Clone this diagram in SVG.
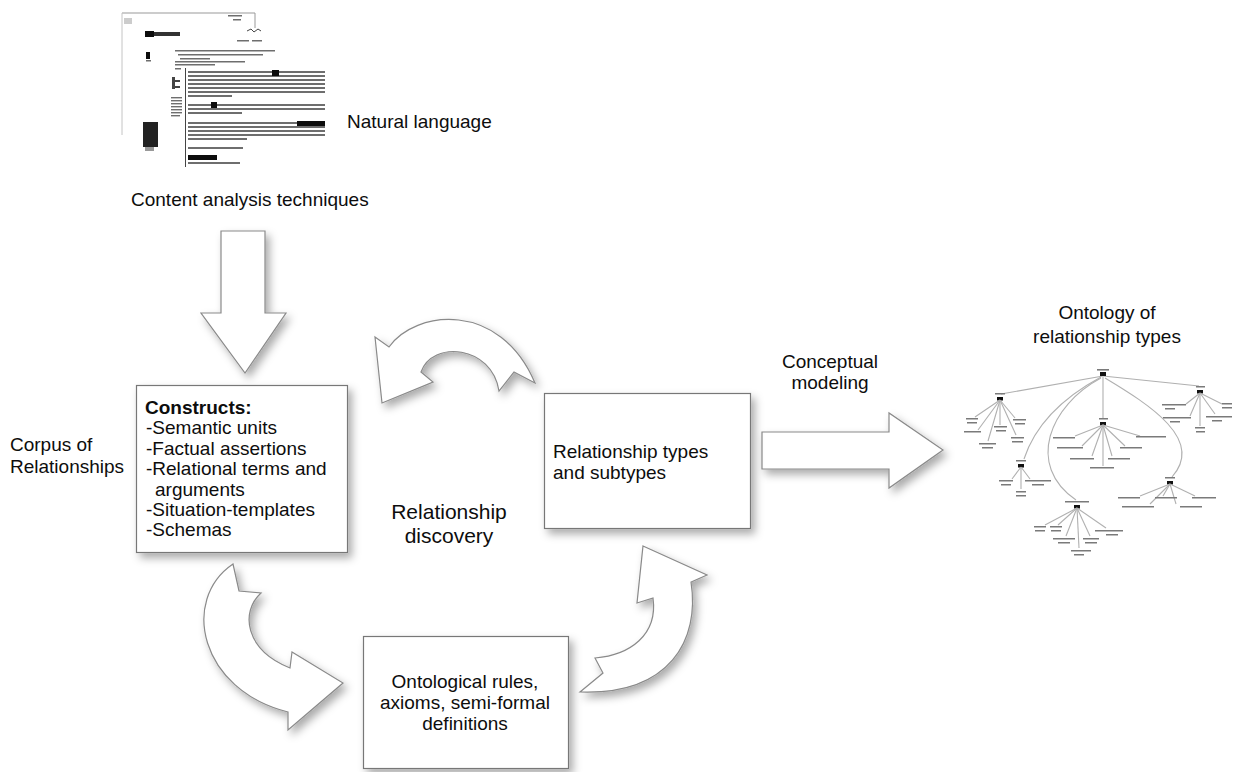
<svg xmlns="http://www.w3.org/2000/svg" width="1243" height="772" viewBox="0 0 1243 772">
<defs>
<style>
.t{font-family:"Liberation Sans",Arial,Helvetica,sans-serif;font-size:19px;fill:#0d0d0d}
.box{fill:#fff;stroke:#777;stroke-width:1.2;filter:url(#sh)}
.arr{fill:#fff;stroke:#8a8a8a;stroke-width:1.2;stroke-linejoin:miter;filter:url(#sh)}
.tl{stroke:#b0b0b0;stroke-width:1.1;fill:none}
.lb{fill:#7a7a7a}
.nd{fill:#111}
.dl{fill:#6e6e6e}
.blk{fill:#111}
</style>
<filter id="sh" x="-20%" y="-20%" width="150%" height="150%">
<feDropShadow dx="4" dy="5" stdDeviation="4.5" flood-color="#000" flood-opacity="0.33"/>
</filter>
<filter id="scan" x="-5%" y="-5%" width="110%" height="110%">
<feGaussianBlur stdDeviation="0.5"/>
</filter>
</defs>
<rect width="1243" height="772" fill="#fff"/>

<!-- scanned document -->
<g id="document" filter="url(#scan)">
<path d="M122,13 H255 V28" stroke="#999" stroke-width="1" fill="none"/>
<line x1="122" y1="13" x2="122" y2="135" stroke="#c4c4c4" stroke-width="1"/>
<rect x="228" y="15" width="14" height="1.5" class="dl"/>
<rect x="233" y="19" width="8" height="1.5" class="dl"/>
<rect x="124" y="18" width="8" height="6" fill="#ccc"/>
<rect x="145" y="31" width="9" height="6" class="blk"/>
<rect x="154" y="32" width="26" height="4" fill="#333"/>
<path d="M247,31 l4,-2 l3,3 l4,-3 l3,2" stroke="#444" fill="none" stroke-width="1"/>
<rect x="237" y="40" width="12" height="1.5" class="dl"/>
<rect x="252" y="40" width="10" height="1.5" class="dl"/>
<rect x="175" y="50" width="100" height="1.5" class="dl"/>
<rect x="178" y="54" width="85" height="1.5" class="dl"/>
<rect x="180" y="58" width="30" height="1.5" class="dl"/>
<rect x="175" y="61" width="70" height="1.5" class="dl"/>
<rect x="175" y="64" width="40" height="1.5" class="dl"/>
<rect x="175" y="68" width="6" height="1.5" class="dl"/>
<rect x="146" y="52" width="4" height="7" class="blk"/>
<rect x="146" y="60" width="5" height="1.5" class="dl"/>
<rect x="172" y="77" width="3" height="12" fill="#444"/>
<rect x="175" y="80" width="5" height="2" fill="#444"/>
<rect x="175" y="86" width="5" height="2" fill="#444"/>
<rect x="171" y="97" width="11" height="1.4" class="dl"/>
<rect x="171" y="100" width="11" height="1.4" class="dl"/>
<rect x="171" y="103" width="11" height="1.4" class="dl"/>
<rect x="171" y="106" width="11" height="1.4" class="dl"/>
<rect x="171" y="109" width="11" height="1.4" class="dl"/>
<rect x="171" y="112" width="11" height="1.4" class="dl"/>
<rect x="171" y="115" width="9" height="1.4" class="dl"/>
<rect x="143" y="122" width="15" height="25" fill="#222"/>
<rect x="145" y="147" width="9" height="4" fill="#999"/>
<line x1="185.5" y1="68" x2="185.5" y2="167" stroke="#444" stroke-width="1"/>
<rect x="188" y="71" width="137" height="2" class="dl"/>
<rect x="188" y="75" width="137" height="2" class="dl"/>
<rect x="188" y="79" width="137" height="2" class="dl"/>
<rect x="188" y="83" width="137" height="2" class="dl"/>
<rect x="188" y="87" width="137" height="2" class="dl"/>
<rect x="188" y="91" width="137" height="2" class="dl"/>
<rect x="188" y="95" width="44" height="2" class="dl"/>
<rect x="272" y="70" width="7" height="6" class="blk"/>
<rect x="188" y="104" width="137" height="2" class="dl"/>
<rect x="188" y="108" width="137" height="2" class="dl"/>
<rect x="188" y="112" width="54" height="2" class="dl"/>
<rect x="211" y="102" width="6" height="6" class="blk"/>
<rect x="188" y="122" width="137" height="2" class="dl"/>
<rect x="188" y="126" width="137" height="2" class="dl"/>
<rect x="188" y="130" width="137" height="2" class="dl"/>
<rect x="188" y="134" width="137" height="2" class="dl"/>
<rect x="188" y="138" width="59" height="2" class="dl"/>
<rect x="297" y="121" width="28" height="5" class="blk"/>
<rect x="188" y="147" width="55" height="2" class="dl"/>
<rect x="188" y="155" width="29" height="5" class="blk"/>
<rect x="188" y="162" width="52" height="2" class="dl"/>
</g>

<g id="label-natural">
<text class="t" x="347" y="128">Natural language</text>
</g>
<g id="label-content">
<text class="t" x="131" y="206">Content analysis techniques</text>
</g>
<g id="label-corpus">
<text class="t" x="10" y="451">Corpus of</text>
<text class="t" x="10" y="473">Relationships</text>
</g>
<g id="label-discovery">
<text class="t" x="449" y="519" text-anchor="middle" style="font-size:21px">Relationship</text>
<text class="t" x="449" y="543" text-anchor="middle" style="font-size:21px">discovery</text>
</g>
<g id="label-conceptual">
<text class="t" x="830" y="368" text-anchor="middle">Conceptual</text>
<text class="t" x="830" y="389" text-anchor="middle">modeling</text>
</g>
<g id="label-ontology">
<text class="t" x="1107" y="319" text-anchor="middle">Ontology of</text>
<text class="t" x="1107" y="343" text-anchor="middle">relationship types</text>
</g>

<g id="connectors">
<path class="arr" d="M221,231 H265 V313 H286 L245,373 L201,313 H221 Z"/>
<path class="arr" d="M762,432 H889 V413 L943,450 L889,488 V469 H762 Z"/>
<path class="arr" d="M375,337 L389,347 C415,310 500,300 535,383 L514,372 L499,391 C492,345 432,340 421,372 L433,382 L382,403 Z"/>
<path class="arr" d="M233,564 L239,591 L261,593 C240,612 245,650 290,668 L292,652 L343,683 L288,730 L288,712 C200,690 180,600 233,564 Z"/>
<path class="arr" d="M643,546 L707,575 L691,582 C700,640 670,695 580,692 L603,673 L595,658 C630,655 658,635 653,598 L637,603 Z"/>
</g>

<g id="constructs">
<rect class="box" x="136.5" y="385.5" width="211" height="167"/>
<text class="t" x="145" y="414" font-weight="bold">Constructs:</text>
<text class="t" x="146" y="434.4">-Semantic units</text>
<text class="t" x="146" y="454.8">-Factual assertions</text>
<text class="t" x="146" y="475.2">-Relational terms and</text>
<text class="t" x="155" y="495.6">arguments</text>
<text class="t" x="146" y="516">-Situation-templates</text>
<text class="t" x="146" y="536.4">-Schemas</text>
</g>

<g id="relationship-types">
<rect class="box" x="544.5" y="393.5" width="206" height="135"/>
<text class="t" x="553" y="458">Relationship types</text>
<text class="t" x="553" y="479">and subtypes</text>
</g>

<g id="ontological-rules">
<rect class="box" x="363.5" y="636.5" width="205" height="132"/>
<text class="t" x="465" y="688" text-anchor="middle">Ontological rules,</text>
<text class="t" x="465" y="709" text-anchor="middle">axioms, semi-formal</text>
<text class="t" x="465" y="730" text-anchor="middle">definitions</text>
</g>

<g id="ontology-tree">
<line class="tl" x1="1103" y1="376" x2="1001" y2="394"/>
<line class="tl" x1="1103" y1="376" x2="1199" y2="386"/>
<line class="tl" x1="1103" y1="377" x2="1103" y2="418"/>
<path class="tl" d="M1101,377 Q1040,410 1024,459"/>
<path class="tl" d="M1101,378 C1050,405 1025,465 1076,500"/>
<path class="tl" d="M1105,378 C1150,405 1205,440 1172,477"/>
<rect class="lb" x="1097" y="369" width="12" height="1.6"/>
<rect class="nd" x="1100" y="372" width="6" height="4"/>
<g>
<rect class="lb" x="995" y="393" width="10" height="1.5"/>
<rect class="nd" x="997" y="397" width="6" height="3.5"/>
<line class="tl" x1="1000" y1="400" x2="975" y2="417"/>
<line class="tl" x1="1000" y1="400" x2="978" y2="430"/>
<line class="tl" x1="1000" y1="400" x2="988" y2="441"/>
<line class="tl" x1="1000" y1="400" x2="1000" y2="425"/>
<line class="tl" x1="1000" y1="400" x2="1015" y2="418"/>
<line class="tl" x1="1000" y1="400" x2="1016" y2="435"/>
<rect class="lb" x="966" y="418" width="12" height="1.5"/><rect class="lb" x="967" y="422" width="10" height="1.5"/>
<rect class="lb" x="964" y="431" width="17" height="1.5"/>
<rect class="lb" x="979" y="443" width="17" height="1.5"/><rect class="lb" x="982" y="447" width="11" height="1.5"/>
<rect class="lb" x="994" y="426" width="13" height="1.5"/><rect class="lb" x="996" y="430" width="10" height="1.5"/>
<rect class="lb" x="1013" y="419" width="13" height="1.5"/><rect class="lb" x="1015" y="423" width="10" height="1.5"/>
<rect class="lb" x="1011" y="437" width="13" height="1.5"/><rect class="lb" x="1012" y="441" width="11" height="1.5"/>
</g>
<g>
<rect class="lb" x="1099" y="418" width="9" height="1.5"/>
<rect class="nd" x="1100" y="422" width="6" height="3.5"/>
<line class="tl" x1="1103" y1="425" x2="1075" y2="436"/>
<line class="tl" x1="1103" y1="425" x2="1082" y2="446"/>
<line class="tl" x1="1103" y1="425" x2="1092" y2="456"/>
<line class="tl" x1="1103" y1="425" x2="1103" y2="466"/>
<line class="tl" x1="1103" y1="425" x2="1112" y2="456"/>
<line class="tl" x1="1103" y1="425" x2="1125" y2="446"/>
<line class="tl" x1="1103" y1="425" x2="1140" y2="436"/>
<rect class="lb" x="1053" y="437" width="22" height="1.5"/>
<rect class="lb" x="1057" y="447" width="26" height="1.5"/>
<rect class="lb" x="1070" y="458" width="24" height="1.5"/>
<rect class="lb" x="1090" y="467" width="24" height="1.5"/>
<rect class="lb" x="1108" y="458" width="22" height="1.5"/>
<rect class="lb" x="1120" y="447" width="22" height="1.5"/>
<rect class="lb" x="1136" y="436" width="30" height="1.5"/>
</g>
<g>
<rect class="lb" x="1196" y="386" width="9" height="1.5"/>
<rect class="nd" x="1197" y="390" width="6" height="3.5"/>
<line class="tl" x1="1200" y1="393" x2="1186" y2="404"/>
<line class="tl" x1="1200" y1="393" x2="1190" y2="416"/>
<line class="tl" x1="1200" y1="393" x2="1200" y2="426"/>
<line class="tl" x1="1200" y1="393" x2="1215" y2="414"/>
<line class="tl" x1="1200" y1="393" x2="1222" y2="404"/>
<rect class="lb" x="1162" y="404" width="24" height="1.5"/><rect class="lb" x="1165" y="408" width="10" height="1.5"/>
<rect class="lb" x="1163" y="417" width="28" height="1.5"/><rect class="lb" x="1170" y="421" width="10" height="1.5"/>
<rect class="lb" x="1195" y="427" width="10" height="1.5"/><rect class="lb" x="1196" y="431" width="9" height="1.5"/>
<rect class="lb" x="1206" y="416" width="26" height="1.5"/><rect class="lb" x="1212" y="420" width="10" height="1.5"/>
<rect class="lb" x="1222" y="403" width="10" height="1.5"/><rect class="lb" x="1222" y="407" width="10" height="1.5"/>
</g>
<g>
<rect class="lb" x="1016" y="460" width="10" height="1.5"/>
<rect class="nd" x="1018" y="464" width="6" height="3.5"/>
<line class="tl" x1="1021" y1="467" x2="1012" y2="479"/>
<line class="tl" x1="1021" y1="467" x2="1021" y2="489"/>
<line class="tl" x1="1021" y1="467" x2="1030" y2="479"/>
<rect class="lb" x="999" y="480" width="14" height="1.5"/><rect class="lb" x="1001" y="484" width="10" height="1.5"/>
<rect class="lb" x="1016" y="491" width="10" height="1.5"/><rect class="lb" x="1016" y="495" width="10" height="1.5"/>
<rect class="lb" x="1025" y="480" width="26" height="1.5"/><rect class="lb" x="1032" y="484" width="12" height="1.5"/>
</g>
<g>
<rect class="lb" x="1165" y="477" width="10" height="1.5"/>
<rect class="nd" x="1167" y="481" width="6" height="3.5"/>
<line class="tl" x1="1170" y1="484" x2="1140" y2="496"/>
<line class="tl" x1="1170" y1="484" x2="1150" y2="504"/>
<line class="tl" x1="1170" y1="484" x2="1163" y2="496"/>
<line class="tl" x1="1170" y1="484" x2="1176" y2="504"/>
<line class="tl" x1="1170" y1="484" x2="1195" y2="496"/>
<rect class="lb" x="1118" y="497" width="22" height="1.5"/>
<rect class="lb" x="1122" y="506" width="32" height="1.5"/>
<rect class="lb" x="1155" y="497" width="22" height="1.5"/>
<rect class="lb" x="1180" y="506" width="22" height="1.5"/>
<rect class="lb" x="1192" y="497" width="24" height="1.5"/>
</g>
<g>
<rect class="lb" x="1065" y="501" width="24" height="1.5"/>
<rect class="nd" x="1074" y="505" width="6" height="3.5"/>
<line class="tl" x1="1077" y1="508" x2="1045" y2="525"/>
<line class="tl" x1="1077" y1="508" x2="1058" y2="525"/>
<line class="tl" x1="1077" y1="508" x2="1066" y2="536"/>
<line class="tl" x1="1077" y1="508" x2="1079" y2="548"/>
<line class="tl" x1="1077" y1="508" x2="1090" y2="536"/>
<line class="tl" x1="1077" y1="508" x2="1106" y2="528"/>
<rect class="lb" x="1034" y="526" width="12" height="1.5"/><rect class="lb" x="1035" y="530" width="10" height="1.5"/>
<rect class="lb" x="1050" y="526" width="12" height="1.5"/><rect class="lb" x="1051" y="530" width="10" height="1.5"/>
<rect class="lb" x="1053" y="538" width="22" height="1.5"/><rect class="lb" x="1058" y="542" width="12" height="1.5"/>
<rect class="lb" x="1071" y="550" width="20" height="1.5"/><rect class="lb" x="1074" y="554" width="10" height="1.5"/>
<rect class="lb" x="1083" y="538" width="16" height="1.5"/><rect class="lb" x="1085" y="542" width="12" height="1.5"/>
<rect class="lb" x="1095" y="530" width="28" height="1.5"/><rect class="lb" x="1106" y="534" width="12" height="1.5"/>
</g>
</g>
</svg>
